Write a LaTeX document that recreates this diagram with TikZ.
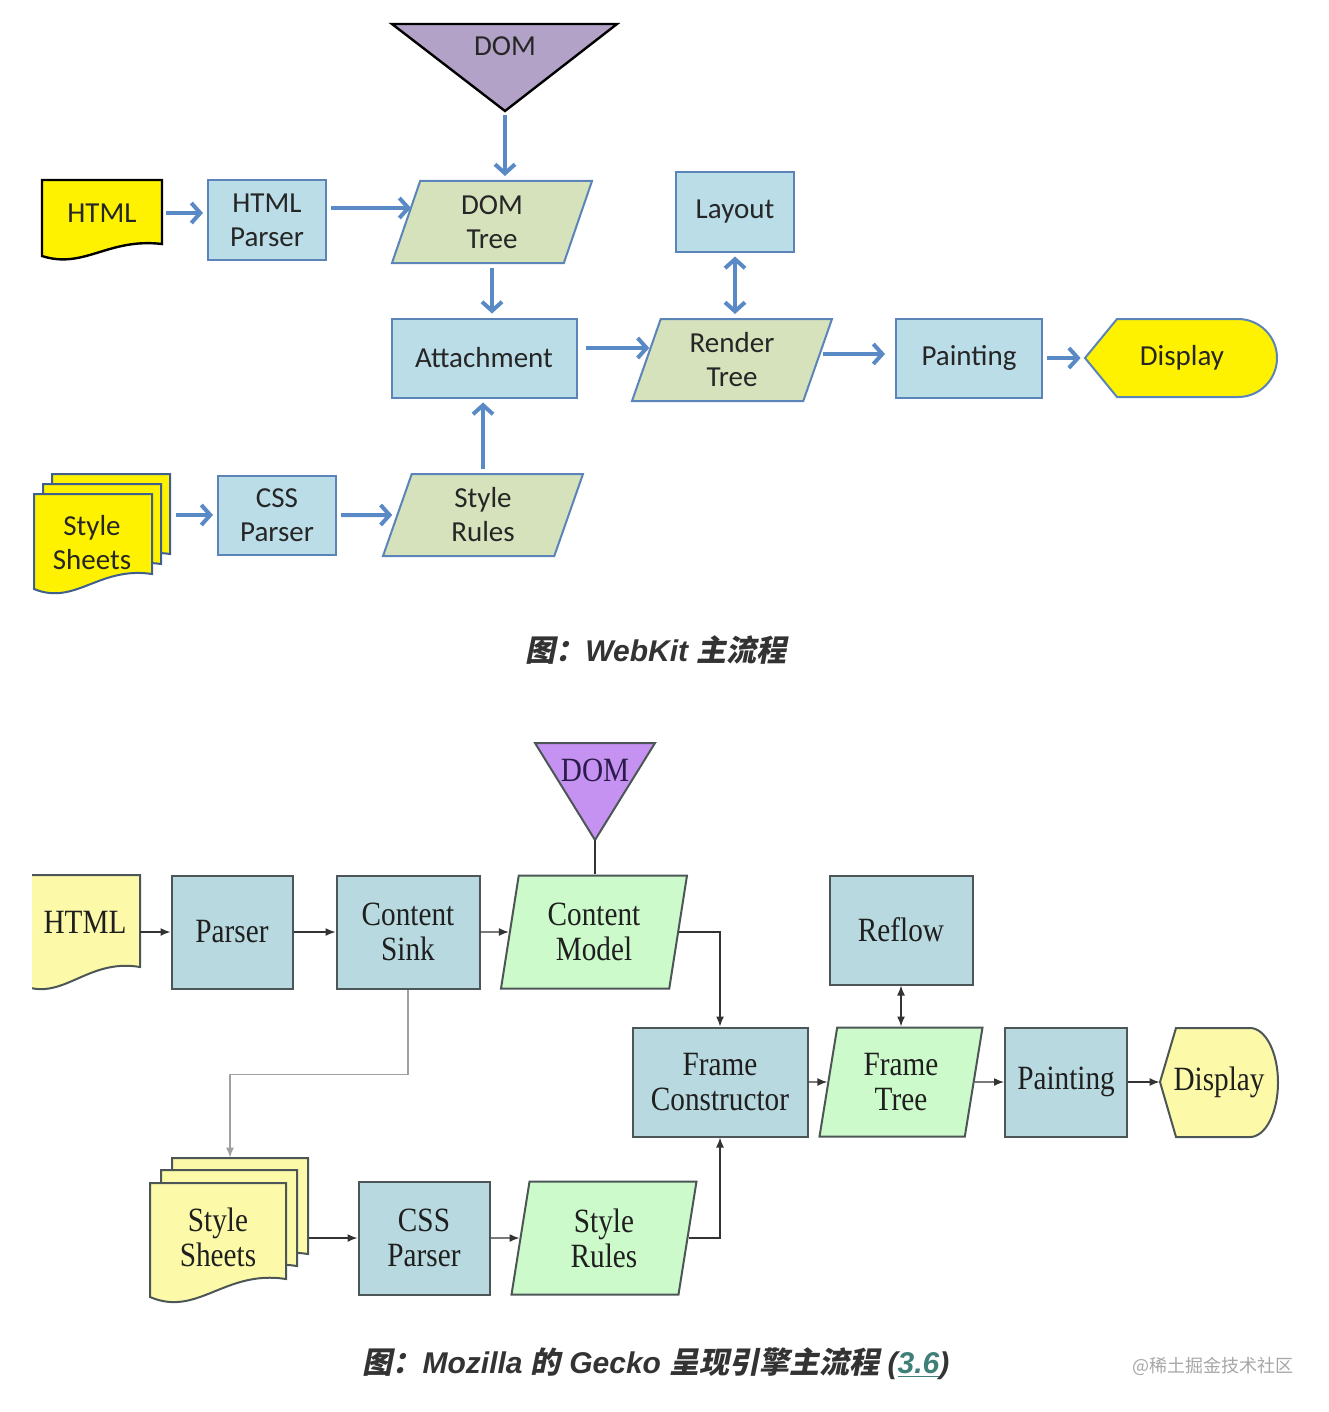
\documentclass[tikz,border=0pt]{standalone}
\usepackage{fontspec}
\usepackage{tikz}
\usepackage{xcolor}
\usetikzlibrary{shapes,arrows.meta,positioning,calc}

\newfontfamily\wkfont{Carlito}
\newfontfamily\gkfont[FakeStretch=0.86]{Liberation Serif}
\newfontfamily\capfont{Liberation Sans}
\newfontfamily\capcjk[BoldFeatures={FakeSlant=0.2}]{Noto Sans CJK SC}

\definecolor{wkblue}{HTML}{5A8AC6}
\definecolor{wkedge}{HTML}{5B84B8}
\definecolor{wksheetedge}{HTML}{3F5F8F}
\definecolor{wkboxfill}{HTML}{BADDE8}
\definecolor{wkparafill}{HTML}{D5E2BB}
\definecolor{wkdomfill}{HTML}{B3A2C7}
\definecolor{gkedge}{HTML}{4D5656}
\definecolor{gkboxfill}{HTML}{B7D9DF}
\definecolor{gkparafill}{HTML}{CCFACA}
\definecolor{gkyellow}{HTML}{FCFAA8}
\definecolor{gkdomfill}{HTML}{C692F2}
\definecolor{gkdomtext}{HTML}{2B1B4B}
\definecolor{gkline}{HTML}{333333}
\definecolor{gkfaint}{HTML}{A0A0A0}
\definecolor{captext}{HTML}{333333}
\definecolor{linkteal}{HTML}{3E7F78}

% document outline with a wavy bottom: style, left, top, width, height
\newcommand{\wavydoc}[5]{%
  \draw[#1] (#2,#3) -- ({#2+#4},#3) -- ({#2+#4},{#3+0.8*#5})
    .. controls ({#2+0.55*#4},{#3+0.72*#5}) and ({#2+0.35*#4},{#3+1.12*#5}) .. (#2,{#3+0.95*#5}) -- cycle;}

\begin{document}
\begin{tikzpicture}[x=0.5pt, y=-0.5pt,
    wktext/.style={font=\wkfont\fontsize{14.5}{17}\selectfont, text=black!85, align=center},
    wkbox/.style={wktext, rectangle, draw=wkedge, line width=1pt, fill=wkboxfill,
        minimum width=59pt, minimum height=39.5pt},
    wkpara/.style={wktext, trapezium, trapezium left angle=67, trapezium right angle=113,
        trapezium stretches body, draw=wkedge, line width=1pt, fill=wkparafill,
        minimum width=100pt, minimum height=41pt},
    wkarrow/.style={draw=wkblue, line width=2pt, shorten <=2pt, shorten >=2pt,
        -{Straight Barb[length=4.5pt, width=10pt]}},
    wkdouble/.style={wkarrow, {Straight Barb[length=4.5pt, width=10pt]}-{Straight Barb[length=4.5pt, width=10pt]}},
    gktext/.style={font=\gkfont\fontsize{17}{17.5}\selectfont, text=black!88, align=center},
    gkbox/.style={gktext, rectangle, draw=gkedge, line width=1pt, fill=gkboxfill, minimum height=56.5pt},
    gkpara/.style={gktext, trapezium, trapezium left angle=76, trapezium right angle=104,
        trapezium stretches body, draw=gkedge, line width=1pt, fill=gkparafill,
        minimum width=93pt, minimum height=56.5pt},
    gkarrow/.style={draw=gkline, line width=0.7pt, -{Latex[length=5pt, width=4pt]}},
    gkdouble/.style={gkarrow, {Latex[length=5pt, width=4pt]}-{Latex[length=5pt, width=4pt]}},
    caption/.style={font=\capfont\bfseries\itshape\fontsize{15}{18}\selectfont, text=captext}]
    \useasboundingbox (0,0) rectangle (1328,1412);

    % WebKit: DOM and HTML
    \draw[fill=wkdomfill, line width=1.2pt] (392,24) -- (617,24) -- (505,111) -- cycle;
    \coordinate (wkdomtip) at (505,111);
    \node[wktext] (wkdom) at (505,46) {DOM};
    \wavydoc{fill=yellow, line width=1.2pt}{42}{180}{120}{80}
    \node[wktext, minimum width=60pt, minimum height=30pt] (wkhtml) at (102,213) {HTML};
    \node[wkbox] (wkhparser) at (267,220) {HTML\\Parser};
    \node[wkpara] (wkdomtree) at (492,222) {DOM\\Tree};
    \node[wkbox, minimum width=92.5pt] (wkattach) at (484,358) {Attachment};
    \node[wkbox] (wklayout) at (735,212) {Layout};
    \node[wkpara] (wkrender) at (732,360) {Render\\Tree};
    \node[wkbox, minimum width=73pt] (wkpaint) at (969,358) {Painting};
    \draw[fill=yellow, draw=wkedge, line width=1pt] (1085,358) -- (1117,319) -- (1238,319)
        arc[start angle=-90, end angle=90, radius=39] -- (1117,397) -- cycle;
    \node[wktext, minimum width=97pt, minimum height=39pt] (wkdisp) at (1182,358) {Display};

    % WebKit: style sheets
    \foreach \sx/\sy in {52/474, 43/484, 34/494}
        \wavydoc{fill=yellow, draw=wksheetedge, line width=1pt}{\sx}{\sy}{118}{100}
    \node[wktext, minimum width=80pt, minimum height=50pt] (wksheets) at (92,543) {Style\\Sheets};
    \node[wkbox] (wkcss) at (277,515) {CSS\\Parser};
    \node[wkpara] (wkrules) at (483,515) {Style\\Rules};

    % WebKit: connectors
    \draw[wkarrow] (wkdomtip) -- (wkdomtip |- wkdomtree.north);
    \draw[wkarrow] (wkhtml.east) -- (wkhtml.east -| wkhparser.west);
    \draw[wkarrow, shorten >=-3pt] ([yshift=6pt]wkhparser.east) -- ([yshift=6pt]wkhparser.east -| wkdomtree.west);
    \draw[wkarrow] (wkdomtree.south) -- (wkdomtree.south |- wkattach.north);
    \draw[wkarrow] (wkrules.north) -- (wkrules.north |- wkattach.south);
    \draw[wkarrow, shorten <=4pt, shorten >=-2pt] ([yshift=5pt]wkattach.east) -- ([yshift=5pt]wkattach.east -| wkrender.west);
    \draw[wkdouble] (wklayout.south) -- (wklayout.south |- wkrender.north);
    \draw[wkarrow, shorten >=5pt] ([yshift=3pt]wkrender.east) -- ([yshift=3pt]wkrender.east -| wkpaint.west);
    \draw[wkarrow] (wkpaint) -- (wkdisp);
    \draw[wkarrow] (wksheets.east |- wkcss.west) -- (wkcss.west);
    \draw[wkarrow] (wkcss) -- (wkrules);

    \node[caption] (cap1) at (656,650) {{\capcjk\upshape 图：}WebKit {\capcjk\upshape 主流程}};

    % Gecko: DOM and HTML
    \draw[fill=gkdomfill, draw=gkedge, line width=1pt] (535,743) -- (655,743) -- (595,840) -- cycle;
    \coordinate (gkdomtip) at (595,840);
    \node[gktext, text=gkdomtext] (gkdom) at (595,770) {DOM};
    \begin{scope}
        \clip (32,860) rectangle (160,1000);
        \wavydoc{fill=gkyellow, draw=gkedge, line width=1pt}{20}{875}{120}{115}
    \end{scope}
    \node[gktext, minimum width=55pt, minimum height=40pt] (gkhtml) at (85,922) {HTML};
    \node[gkbox, minimum width=60.5pt] (gkparser) at (232,932) {Parser};
    \node[gkbox, minimum width=71.5pt] (gksink) at (408,932) {Content\\Sink};
    \node[gkpara] (gkmodel) at (594,932) {Content\\Model};
    \node[gkbox, minimum width=71.5pt, minimum height=54.5pt] (gkreflow) at (901,930) {Reflow};
    \node[gkbox, minimum width=87.5pt, minimum height=54.5pt] (gkframec) at (720,1082) {Frame\\Constructor};
    \node[gkpara, minimum width=81.5pt, minimum height=54.5pt] (gkframet) at (901,1082) {Frame\\Tree};
    \node[gkbox, minimum width=61pt, minimum height=54.5pt] (gkpaint) at (1066,1082) {Painting};
    \draw[fill=gkyellow, draw=gkedge, line width=1pt] (1160,1082) -- (1176,1028) -- (1250,1028)
        arc[start angle=-90, end angle=90, x radius=28, y radius=54.5] -- (1176,1137) -- cycle;
    \node[gktext, minimum width=59pt, minimum height=50pt] (gkdisp) at (1219,1082) {Display};

    % Gecko: style sheets
    \foreach \sx/\sy in {172/1158, 161/1170, 150/1183}
        \wavydoc{fill=gkyellow, draw=gkedge, line width=1pt}{\sx}{\sy}{136}{120}
    \node[gktext, minimum width=91pt, minimum height=79pt] (gksheets) at (218,1237) {Style\\Sheets};
    \node[gkbox, minimum width=65.5pt] (gkcss) at (424,1238) {CSS\\Parser};
    \node[gkpara, minimum width=92.5pt] (gkrules) at (604,1238) {Style\\Rules};

    % Gecko: connectors
    \draw[draw=gkline, line width=0.7pt] (gkdomtip) -- (gkdomtip |- gkmodel.north);
    \draw[gkarrow] (gkhtml.east |- gkparser.west) -- (gkparser.west);
    \draw[gkarrow] (gkparser) -- (gksink);
    \draw[gkarrow] (gksink) -- (gkmodel);
    \draw[gkarrow] (gkmodel.east) -| (gkframec.north);
    \draw[gkarrow, draw=gkfaint] (gksink.south) -- ++(0,85) -| ([xshift=6pt]gksheets.north);
    \draw[gkarrow] (gkframec) -- (gkframet);
    \draw[gkdouble] (gkreflow) -- (gkframet);
    \draw[gkarrow] (gkframet) -- (gkpaint);
    \draw[gkarrow] (gkpaint) -- (gkdisp);
    \draw[gkarrow] (gksheets.east |- gkcss.west) -- (gkcss.west);
    \draw[gkarrow] (gkcss) -- (gkrules);
    \draw[gkarrow] (gkrules.east) -| (gkframec.south);

    \node[caption] (cap2) at (656,1364) {{\capcjk\upshape 图：}Mozilla {\capcjk\upshape 的} Gecko {\capcjk\upshape 呈现引擎主流程} ({\color{linkteal}\underline{3.6}})};
    \node[font=\capcjk\fontsize{9}{10}\selectfont, text=black!35] (mark) at (1213,1366) {@稀土掘金技术社区};
\end{tikzpicture}
\end{document}
